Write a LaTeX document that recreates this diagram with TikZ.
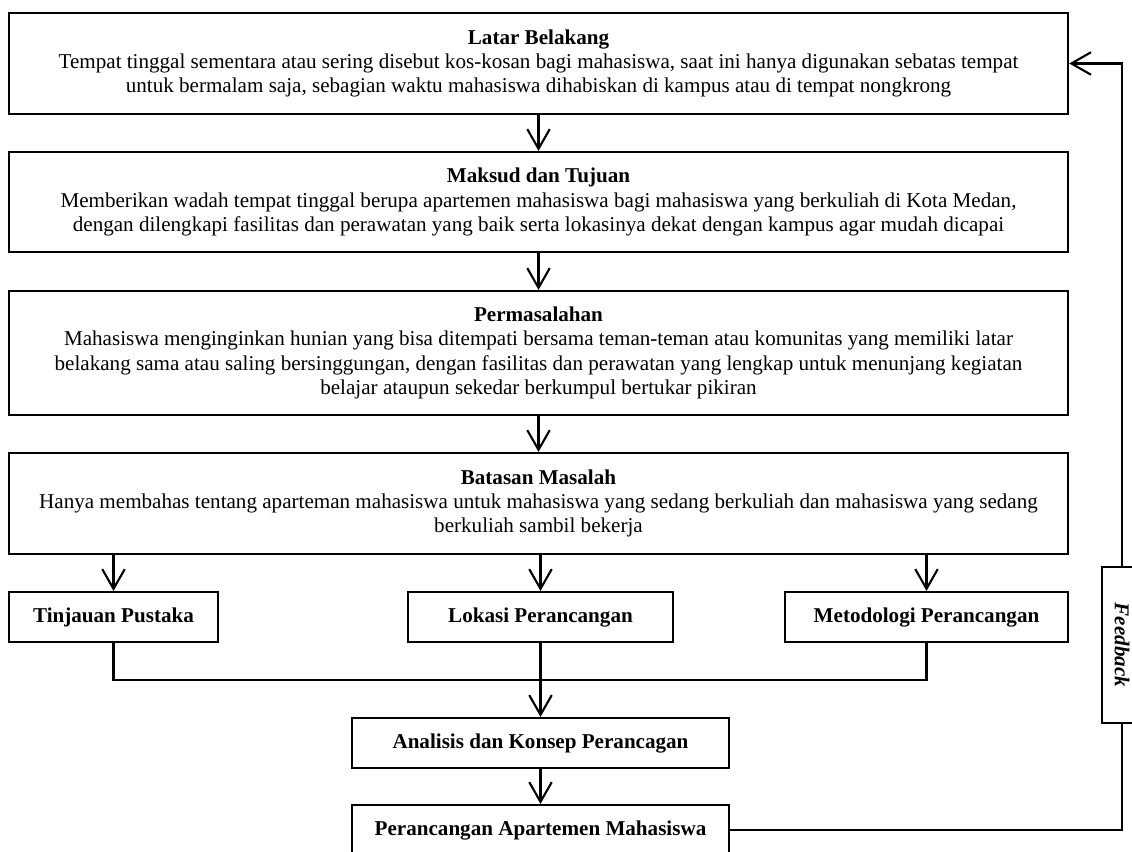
\documentclass[tikz,border=0pt]{standalone}
\usepackage{fontspec}
\setmainfont{Liberation Serif}
\usetikzlibrary{arrows.meta}
\begin{document}
\begin{tikzpicture}[x=0.025cm,y=-0.025cm, line width=1.5pt,
  box/.style={draw, inner sep=0pt, align=center, font=\fontsize{15}{17.3}\selectfont},
  bigbox/.style={box, minimum width=26.475cm},
  smallbox/.style={box, minimum height=1.25cm, font=\fontsize{15}{17.3}\selectfont\bfseries},
  arr/.style={-{Straight Barb[length=14pt,width=16pt,line width=1.5pt]}},
  fblabel/.style={draw, fill=white, rotate=-90, minimum width=3.9cm, minimum height=1cm, inner sep=0pt, font=\fontsize{15}{17.3}\selectfont\bfseries\itshape}]
\useasboundingbox (0,0) rectangle (1132,851);

\node[bigbox, minimum height=2.525cm] (b1) at (538.5,63.5)
  {\textbf{Latar Belakang}\\Tempat tinggal sementara atau sering disebut kos-kosan bagi mahasiswa, saat ini hanya digunakan sebatas tempat\\untuk bermalam saja, sebagian waktu mahasiswa dihabiskan di kampus atau di tempat nongkrong};
\node[bigbox, minimum height=2.5cm] (b2) at (538.5,202)
  {\textbf{Maksud dan Tujuan}\\Memberikan wadah tempat tinggal berupa apartemen mahasiswa bagi mahasiswa yang berkuliah di Kota Medan,\\dengan dilengkapi fasilitas dan perawatan yang baik serta lokasinya dekat dengan kampus agar mudah dicapai};
\node[bigbox, minimum height=3.1cm] (b3) at (538.5,353)
  {\textbf{Permasalahan}\\Mahasiswa menginginkan hunian yang bisa ditempati bersama teman-teman atau komunitas yang memiliki latar\\belakang sama atau saling bersinggungan, dengan fasilitas dan perawatan yang lengkap untuk menunjang kegiatan\\belajar ataupun sekedar berkumpul bertukar pikiran};
\node[bigbox, minimum height=2.525cm] (b4) at (538.5,503.5)
  {\textbf{Batasan Masalah}\\Hanya membahas tentang aparteman mahasiswa untuk mahasiswa yang sedang berkuliah dan mahasiswa yang sedang\\berkuliah sambil bekerja};

\node[smallbox, minimum width=5.225cm] (t1) at (113.5,617) {Tinjauan Pustaka};
\node[smallbox, minimum width=6.625cm] (t2) at (540.5,617) {Lokasi Perancangan};
\node[smallbox, minimum width=7.075cm] (t3) at (926.5,617) {Metodologi Perancangan};

\node[smallbox, minimum width=9.425cm] (a1) at (540.5,743) {Analisis dan Konsep Perancagan};
\node[smallbox, minimum width=9.425cm] (p1) at (540.5,830) {Perancangan Apartemen Mahasiswa};

\coordinate (m) at (540.5,680);
\coordinate (fb) at (1122,450);

\draw[arr] (b1) -- (b2);
\draw[arr] (b2) -- (b3);
\draw[arr] (b3) -- (b4);
\draw[arr] (t1.north |- b4.south) -- (t1.north);
\draw[arr] (t2.north |- b4.south) -- (t2.north);
\draw[arr] (t3.north |- b4.south) -- (t3.north);
\draw (t1.south) |- (m) -| (t3.south);
\draw (t2.south) -- (m);
\draw[arr] (m) -- (a1.north);
\draw[arr] (a1) -- (p1);
\draw[arr] (p1.east) -| (fb) |- (b1.east);

\node[fblabel] (fbl) at (1122,645) {Feedback};
\end{tikzpicture}
\end{document}
